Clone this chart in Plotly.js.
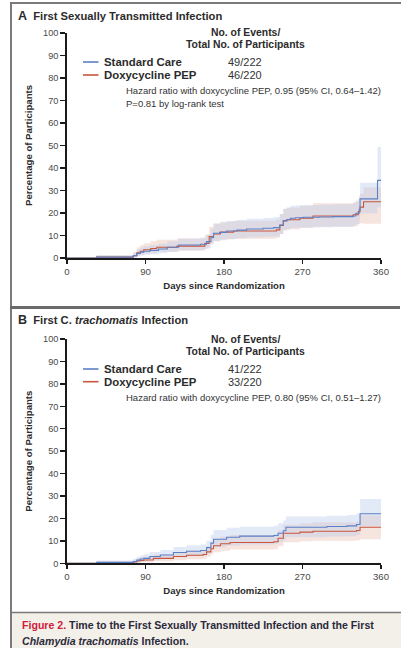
<!DOCTYPE html>
<html>
<head>
<meta charset="utf-8">
<script src="https://cdn.plot.ly/plotly-3.0.1.min.js"></script>
<style>
  html, body { margin: 0; padding: 0; background: #ffffff; }
  #chart { width: 401px; height: 648px; }
</style>
</head>
<body>
<div id="chart"></div>
<script>
// ---------- DATA ----------
const xTicks = [0, 90, 180, 270, 360];
const yTicks = [0, 10, 20, 30, 40, 50, 60, 70, 80, 90, 100];
const seriesNames = ["Standard Care", "Doxycycline PEP"];

// Panel A: First sexually transmitted infection
const aStdDays  = [0, 34, 76, 80, 84, 88, 95, 105, 115, 128, 153, 160, 165, 168, 175, 183, 195, 206, 225, 237, 244, 248, 252, 256, 262, 271, 290, 305, 328, 331, 335, 336, 356, 360];
const aStdPct   = [0, 0.4, 1.0, 2.0, 2.6, 3.0, 3.4, 4.0, 4.8, 5.8, 6.1, 7.3, 9.0, 11.0, 11.4, 12.0, 12.4, 12.9, 13.2, 13.5, 14.7, 16.6, 17.0, 17.7, 17.9, 18.1, 18.2, 18.4, 18.7, 19.9, 21.7, 26.3, 34.5, 34.5];
const aStdLow   = [0, 0, 0.2, 0.7, 1.1, 1.4, 1.7, 2.1, 2.7, 3.4, 3.7, 4.6, 6.0, 7.6, 7.9, 8.4, 8.8, 9.2, 9.4, 9.7, 10.7, 12.3, 12.7, 13.3, 13.5, 13.6, 13.7, 13.9, 14.1, 15.1, 16.6, 19.8, 22.5, 22.5];
const aStdHigh  = [0, 1.2, 2.5, 3.9, 4.7, 5.2, 5.7, 6.4, 7.4, 8.7, 9.1, 10.7, 12.8, 15.3, 15.7, 16.4, 16.9, 17.5, 17.8, 18.2, 19.6, 21.9, 22.3, 23.2, 23.4, 23.6, 23.7, 23.9, 24.3, 25.6, 27.8, 33.5, 49.3, 49.3];

const aDoxDays  = [0, 34, 76, 80, 84, 88, 96, 103, 126, 158, 163, 168, 176, 191, 240, 244, 248, 252, 267, 282, 328, 334, 336, 340, 360];
const aDoxPct   = [0, 0.4, 1.0, 2.3, 3.0, 3.7, 4.2, 4.8, 5.3, 6.5, 9.5, 10.7, 11.5, 12.0, 12.5, 14.5, 16.5, 17.0, 17.7, 18.7, 19.2, 20.6, 22.6, 25.0, 25.0];
const aDoxLow   = [0, 0, 0.2, 1.0, 1.5, 2.0, 2.3, 2.8, 3.2, 4.1, 6.5, 7.5, 8.2, 8.6, 9.0, 10.7, 12.3, 12.7, 13.3, 13.9, 14.2, 15.0, 15.5, 15.2, 15.2];
const aDoxHigh  = [0, 1.2, 2.6, 4.8, 5.8, 6.6, 7.4, 8.1, 8.7, 10.2, 13.8, 15.2, 16.1, 16.6, 17.2, 19.6, 21.8, 22.4, 23.2, 24.3, 24.9, 26.4, 28.6, 31.5, 31.5];

// Panel B: First C. trachomatis infection
const bStdDays  = [0, 34, 76, 80, 84, 88, 95, 107, 122, 137, 153, 160, 165, 168, 183, 198, 237, 242, 248, 251, 298, 321, 332, 336, 360];
const bStdPct   = [0, 0.4, 0.8, 1.4, 1.9, 2.2, 3.0, 3.7, 4.8, 5.4, 5.7, 7.0, 9.0, 10.7, 11.6, 12.1, 12.4, 13.4, 14.5, 16.1, 16.4, 16.7, 17.3, 22.1, 22.1];
const bStdLow   = [0, 0, 0.1, 0.4, 0.7, 0.9, 1.4, 1.9, 2.7, 3.2, 3.4, 4.4, 5.9, 7.2, 7.9, 8.4, 8.6, 9.4, 10.3, 11.6, 11.9, 12.1, 12.6, 16.5, 16.5];
const bStdHigh  = [0, 1.2, 2.0, 2.9, 3.6, 4.0, 5.0, 5.9, 7.3, 8.0, 8.4, 10.1, 12.7, 14.8, 15.8, 16.3, 16.7, 17.9, 19.1, 20.9, 21.2, 21.5, 22.2, 28.7, 28.7];

const bDoxDays  = [0, 34, 76, 80, 84, 88, 99, 122, 137, 156, 160, 165, 168, 176, 187, 237, 242, 248, 267, 282, 332, 336, 360];
const bDoxPct   = [0, 0.3, 0.6, 1.0, 1.3, 1.5, 2.2, 3.0, 3.6, 3.9, 5.1, 6.5, 7.8, 8.7, 9.3, 9.6, 11.2, 13.4, 13.9, 14.3, 14.6, 16.1, 16.1];
const bDoxLow   = [0, 0, 0, 0.2, 0.4, 0.5, 0.9, 1.4, 1.8, 2.0, 2.9, 3.9, 4.9, 5.6, 6.1, 6.3, 7.6, 9.4, 9.8, 10.1, 10.3, 10.7, 10.7];
const bDoxHigh  = [0, 1.0, 1.6, 2.3, 2.7, 3.0, 3.9, 5.0, 5.7, 6.0, 7.6, 9.3, 10.9, 11.9, 12.6, 12.9, 14.7, 17.2, 17.8, 18.3, 18.6, 21.4, 21.4];

const aEvents = ["49/222", "46/220"];
const bEvents = ["41/222", "33/220"];
const aHazard = "Hazard ratio with doxycycline PEP, 0.95 (95% CI, 0.64\u20131.42)";
const aPvalue = "P=0.81 by log-rank test";
const bHazard = "Hazard ratio with doxycycline PEP, 0.80 (95% CI, 0.51\u20131.27)";

// ---------- STYLE ----------
const W = 401, H = 648;
const px = v => v / W;
const py = v => 1 - v / H;
const FONT = "'Liberation Sans', Arial, sans-serif";
const BLUE = "#5b80c6";
const RED = "#c9563d";
const BLUE_BAND = "rgba(188,204,236,0.42)";
const RED_BAND = "rgba(236,196,184,0.45)";
const TXT = "#2b2b2b";

function band(days, low, high, color, xa, ya) {
  return [
    {x: days, y: low, xaxis: xa, yaxis: ya, type: "scatter", mode: "lines",
     line: {width: 0, shape: "hv"}, showlegend: false, hoverinfo: "skip"},
    {x: days, y: high, xaxis: xa, yaxis: ya, type: "scatter", mode: "lines",
     line: {width: 0, shape: "hv"}, fill: "tonexty", fillcolor: color,
     showlegend: false, hoverinfo: "skip"}
  ];
}
function curve(days, vals, color, name, xa, ya) {
  return {x: days, y: vals, xaxis: xa, yaxis: ya, type: "scatter", mode: "lines",
          name: name, line: {color: color, width: 1.1, shape: "hv"}, showlegend: false};
}

const data = [
  ...band(aDoxDays, aDoxLow, aDoxHigh, RED_BAND, "x", "y"),
  ...band(aStdDays, aStdLow, aStdHigh, BLUE_BAND, "x", "y"),
  curve(aDoxDays, aDoxPct, RED, seriesNames[1], "x", "y"),
  curve(aStdDays, aStdPct, BLUE, seriesNames[0], "x", "y"),
  ...band(bDoxDays, bDoxLow, bDoxHigh, RED_BAND, "x2", "y2"),
  ...band(bStdDays, bStdLow, bStdHigh, BLUE_BAND, "x2", "y2"),
  curve(bDoxDays, bDoxPct, RED, seriesNames[1], "x2", "y2"),
  curve(bStdDays, bStdPct, BLUE, seriesNames[0], "x2", "y2")
];

function xAxis(anchor) {
  return {
    domain: [px(67), px(381)], anchor: anchor, range: [0, 360],
    tickvals: xTicks, ticktext: xTicks.map(String),
    showgrid: false, zeroline: false, showline: true, linecolor: "#1a1a1a", linewidth: 1.6,
    ticks: "outside", ticklen: 4, tickwidth: 1.4, tickcolor: "#1a1a1a",
    tickfont: {family: FONT, size: 9.6, color: "#4a4a4a"},
    title: {text: "<b>Days since Randomization</b>", font: {family: FONT, size: 9.6, color: TXT}, standoff: 6},
    fixedrange: true
  };
}
function yAxis(domain, anchor) {
  return {
    domain: domain, anchor: anchor, range: [0, 100],
    tickvals: yTicks, ticktext: yTicks.map(String),
    showgrid: false, zeroline: false, showline: true, linecolor: "#1a1a1a", linewidth: 1.8,
    ticks: "outside", ticklen: 5, tickwidth: 1.4, tickcolor: "#1a1a1a",
    tickfont: {family: FONT, size: 9.2, color: "#4a4a4a"},
    title: {text: "<b>Percentage of Participants</b>", font: {family: FONT, size: 9.6, color: TXT}, standoff: 9},
    fixedrange: true
  };
}

function legendBlock(top, events, hazardLines) {
  const ann = [];
  const t = (x, y, text, opts) => Object.assign({
    xref: "paper", yref: "paper", x: px(x), y: py(y), text: text, showarrow: false,
    xanchor: "left", yanchor: "middle", font: {family: FONT, size: 10.4, color: TXT}
  }, opts || {});
  ann.push(t(245, top, "<b>No. of Events/</b>", {xanchor: "center"}));
  ann.push(t(245, top + 11.8, "<b>Total No. of Participants</b>", {xanchor: "center"}));
  ann.push(t(102, top + 29.3, "<b>" + seriesNames[0] + "</b>", {font: {family: FONT, size: 11.4, color: TXT}}));
  ann.push(t(102, top + 42.2, "<b>" + seriesNames[1] + "</b>", {font: {family: FONT, size: 11.4, color: TXT}}));
  ann.push(t(226, top + 29.3, events[0], {font: {family: FONT, size: 11, color: "#333"}}));
  ann.push(t(226, top + 42.2, events[1], {font: {family: FONT, size: 11, color: "#333"}}));
  hazardLines.forEach((h, i) => {
    ann.push(t(124, top + 58 + i * 12.6, h, {font: {family: FONT, size: 9.5, color: "#333"}}));
  });
  return ann;
}

const annotations = [
  {xref: "paper", yref: "paper", x: px(16), y: py(15.5), xanchor: "left", yanchor: "middle", showarrow: false,
   text: "<b><span style='font-size:12.5px'>A</span>  First Sexually Transmitted Infection</b>",
   font: {family: FONT, size: 11.2, color: TXT}},
  {xref: "paper", yref: "paper", x: px(16), y: py(319.5), xanchor: "left", yanchor: "middle", showarrow: false,
   text: "<b><span style='font-size:12.5px'>B</span>  First C. <i>trachomatis</i> Infection</b>",
   font: {family: FONT, size: 11.2, color: TXT}},
  ...legendBlock(32.7, aEvents, [aHazard, aPvalue]),
  ...legendBlock(339.3, bEvents, [bHazard]),
  {xref: "paper", yref: "paper", x: px(20), y: py(624.5), xanchor: "left", yanchor: "middle", showarrow: false,
   text: "<b><span style='color:#d0203a'>Figure 2.</span> Time to the First Sexually Transmitted Infection and the First</b>",
   font: {family: FONT, size: 10.6, color: "#2a2a3a"}},
  {xref: "paper", yref: "paper", x: px(20), y: py(640.5), xanchor: "left", yanchor: "middle", showarrow: false,
   text: "<b><i>Chlamydia trachomatis</i> Infection.</b>",
   font: {family: FONT, size: 10.6, color: "#2a2a3a"}}
];

const lineShape = (x0, y0, x1, y1, w, c) => ({type: "line", xref: "paper", yref: "paper",
  x0: px(x0), y0: py(y0), x1: px(x1), y1: py(y1), line: {color: c, width: w}, layer: "above"});

const shapes = [
  // caption background
  {type: "rect", xref: "paper", yref: "paper", x0: px(11), y0: py(612), x1: px(401), y1: py(648),
   fillcolor: "#f3efe9", line: {width: 0}, layer: "below"},
  // legend line swatches
  lineShape(83, 62, 98.5, 62, 1.6, BLUE),
  lineShape(83, 75, 98.5, 75, 1.6, RED),
  lineShape(83, 369, 98.5, 369, 1.6, BLUE),
  lineShape(83, 381.7, 98.5, 381.7, 1.6, RED),
  // frame
  lineShape(10, 3, 401, 3, 2.2, "#7a7a7a"),
  lineShape(11, 2, 11, 648, 2, "#7a7a7a"),
  lineShape(10, 307.5, 400, 307.5, 3, "#6a6a6a"),
  lineShape(11, 612.5, 401, 612.5, 1.4, "#7a7a7a")
];

const layout = {
  width: W, height: H,
  margin: {l: 0, r: 0, t: 0, b: 0},
  paper_bgcolor: "#ffffff", plot_bgcolor: "rgba(0,0,0,0)",
  showlegend: false,
  xaxis: xAxis("y"),
  yaxis: yAxis([py(258), py(33)], "x"),
  xaxis2: xAxis("y2"),
  yaxis2: yAxis([py(563.3), py(339)], "x2"),
  annotations: annotations,
  shapes: shapes,
  font: {family: FONT}
};

Plotly.newPlot("chart", data, layout, {staticPlot: true, displayModeBar: false});
</script>
</body>
</html>
